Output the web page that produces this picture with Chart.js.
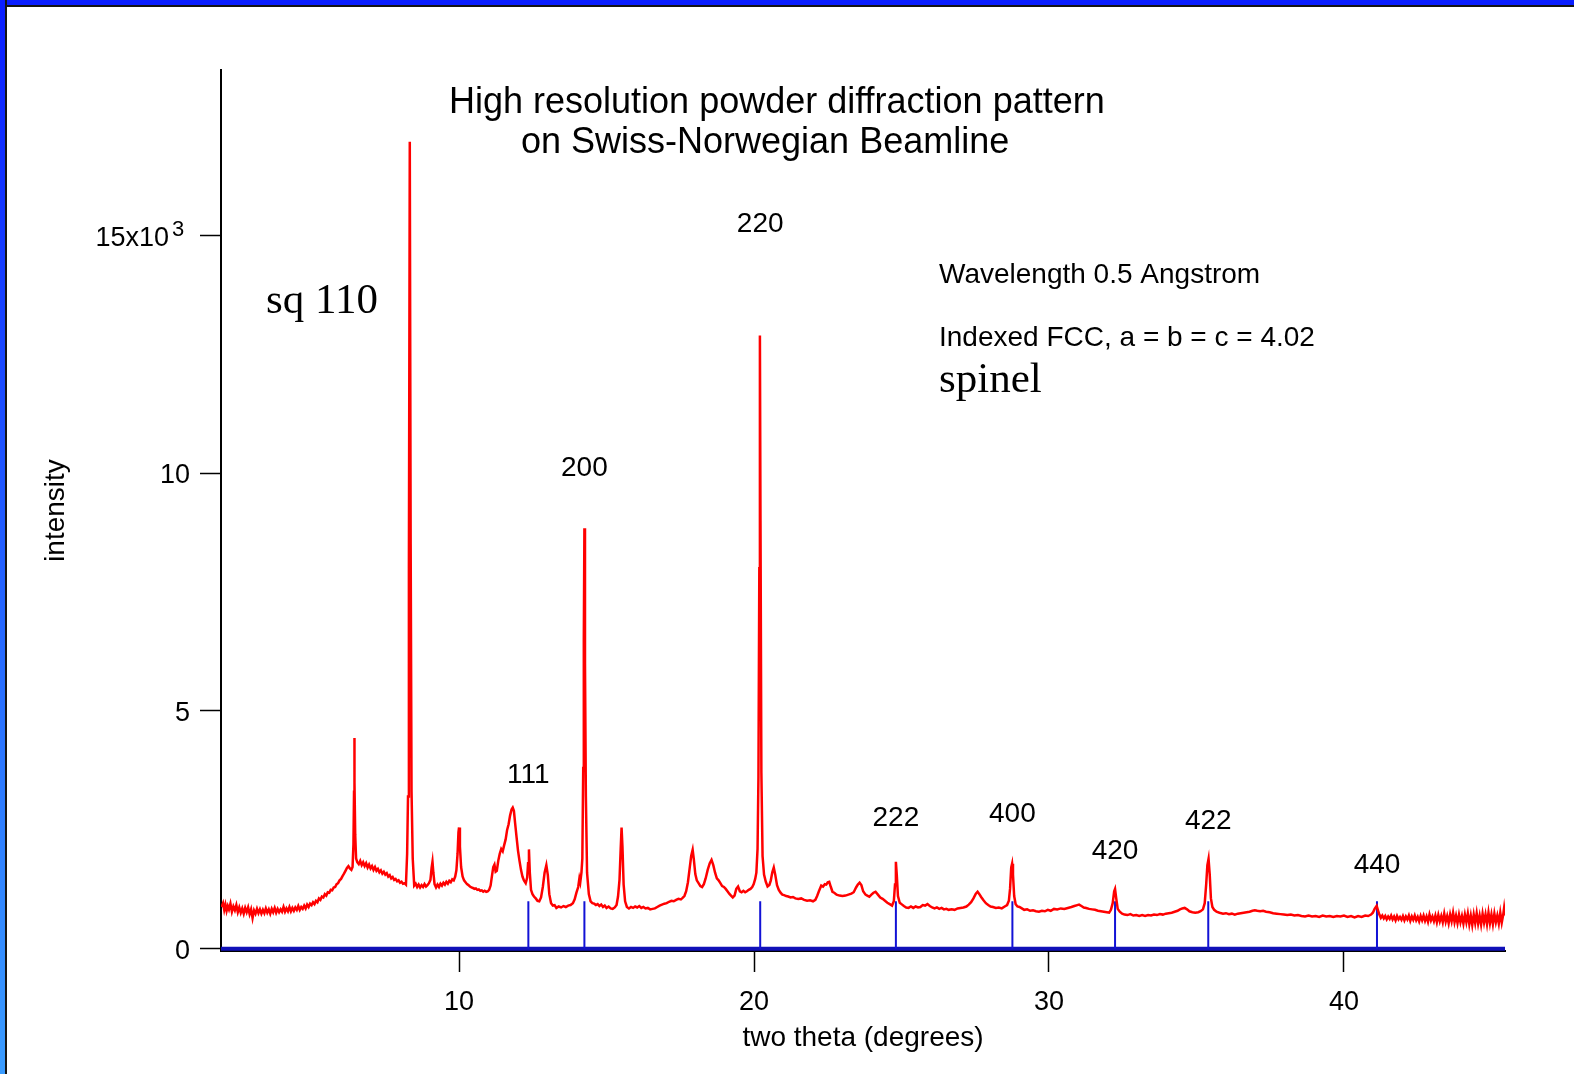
<!DOCTYPE html>
<html>
<head>
<meta charset="utf-8">
<script src="https://cdn.jsdelivr.net/npm/chart.js@4.4.0/dist/chart.umd.min.js"></script>
<style>
  html, body { margin: 0; padding: 0; background: #fff; }
  #wrap { position: relative; width: 1574px; height: 1074px; overflow: hidden; background: #fff; }
  #topbar { position: absolute; left: 0; top: 0; width: 1574px; height: 5px; background: #0a1eff; border-bottom: 2px solid #151515; }
  #leftbar { position: absolute; left: 0; top: 0; width: 5px; height: 1074px; background: linear-gradient(#0a1eff, #3a9cff); border-right: 2px solid #151515; }
  canvas { position: absolute; left: 0; top: 0; }
</style>
</head>
<body>
<div id="wrap">
  <canvas id="graficoXRD" width="1574" height="1074"></canvas>
  <div id="topbar"></div>
  <div id="leftbar"></div>
</div>
<script>
// two theta (deg), intensity (counts), split in pieces
const scanA = [
  [1.95,880],[2.00,960],[2.04,820],[2.08,930],[2.12,800],[2.16,900],[2.20,830],[2.25,950],[2.30,780],[2.35,890],
  [2.40,810],[2.45,920],[2.50,770],[2.55,870],[2.60,760],[2.65,850],[2.70,740],[2.75,860],[2.80,770],[2.85,870],
  [2.90,730],[2.95,830],[3.00,650],[3.05,810],[3.10,740],[3.15,840],[3.20,750],[3.25,830],[3.30,740],[3.35,820],
  [3.40,750],[3.45,850],[3.50,760],[3.55,830],[3.60,740],[3.65,840],[3.70,770],[3.75,860],[3.80,760],[3.85,840],
  [3.90,770],[3.95,830],[4.00,780],[4.05,880],[4.10,780],[4.15,850],[4.20,790],[4.25,880],[4.30,790],[4.35,860],
  [4.40,800],[4.45,870],[4.50,820],[4.55,900],[4.60,820],[4.65,880],[4.70,840],[4.75,910],[4.80,850],[4.85,930],
  [4.90,880],[4.95,950],[5.00,920],[5.05,980],[5.10,940],[5.15,1010],[5.20,980],[5.25,1060],[5.30,1030],[5.35,1100],
  [5.40,1080],[5.45,1150],[5.50,1120],[5.55,1190],[5.60,1180],[5.65,1240],[5.70,1230],[5.75,1290],[5.80,1300],[5.85,1360],
  [5.90,1380],[5.95,1440],[6.00,1470],[6.05,1530],[6.10,1580],[6.15,1640],[6.20,1700],[6.25,1740],[6.30,1690],[6.35,1660],
  [6.39,1720],[6.42,2200],[6.44,3300],[6.45,4430],[6.46,3500],[6.48,2400],[6.51,1900],
  [6.55,1820],[6.60,1780],[6.65,1850],[6.70,1760],[6.75,1820],[6.80,1740],[6.85,1800],[6.90,1710],[6.95,1770],[7.00,1690],
  [7.05,1740],[7.10,1660],[7.15,1720],[7.20,1640],[7.25,1680],[7.30,1610],[7.35,1650],[7.40,1580],[7.45,1620],[7.50,1560],
  [7.55,1590],[7.60,1520],[7.65,1550],[7.70,1480],[7.75,1510],[7.80,1450],[7.85,1470],[7.90,1420],[7.95,1440],[8.00,1390],
  [8.05,1410],[8.10,1370],[8.15,1380],[8.20,1350]
];
const scanB = [
  [8.24,2000],[8.27,3200],[8.30,8000],[8.33,16960],[8.36,8500],[8.39,3300],[8.43,1900],[8.48,1330],
  [8.53,1370],[8.58,1300],[8.63,1350],[8.68,1290],[8.73,1340],[8.78,1300],[8.83,1360],[8.88,1310],[8.93,1340],[8.98,1380],
  [9.03,1450],[9.07,1700],[9.10,1830],[9.13,1600],[9.17,1360],[9.22,1290],[9.27,1350],[9.32,1300],[9.37,1370],[9.42,1330],
  [9.47,1390],[9.52,1350],[9.57,1410],[9.62,1370],[9.67,1430],[9.72,1400],[9.77,1460],[9.82,1440],[9.87,1520],[9.91,1650],
  [9.95,2000],[9.98,2450],[10.00,2550],[10.03,2150],[10.07,1720],[10.12,1520],[10.17,1440],[10.22,1400],[10.27,1360],[10.32,1340],
  [10.37,1310],[10.42,1290],[10.47,1280],[10.52,1260],[10.57,1270],[10.62,1240],[10.67,1250],[10.72,1220],[10.77,1230],[10.82,1200],
  [10.87,1220],[10.92,1200],[10.97,1210],[11.02,1240],[11.07,1330],[11.12,1550],[11.16,1720],[11.20,1770],[11.24,1620],[11.28,1640],
  [11.33,1850],[11.38,2000],[11.43,2100],[11.48,2050],[11.53,2180],[11.58,2300],[11.63,2500],[11.68,2620],[11.73,2800],[11.78,2930],
  [11.82,2970],[11.86,2900],[11.90,2650],[11.95,2350],[12.00,2060],[12.05,1850],[12.10,1660],[12.15,1520],[12.20,1440],[12.26,1380],
  [12.31,1500],[12.34,1800],[12.37,2090],[12.40,1600],[12.44,1240],[12.49,1150],[12.54,1100],[12.60,1060],[12.66,1010],[12.72,1000],
  [12.78,1080],[12.84,1300],[12.90,1600],[12.96,1760],[13.01,1550],[13.06,1150],[13.12,960],[13.18,910],[13.24,920],[13.30,860],
  [13.38,890],[13.46,870],[13.54,900],[13.62,880],[13.70,910],[13.78,920],[13.86,960],[13.92,1040],[13.98,1180],[14.04,1300],
  [14.08,1480],[14.11,1400]
];
const scanC = [
  [14.15,1600],[14.18,1900],[14.21,3800],[14.23,6500],[14.25,8840],[14.27,6000],[14.30,3200],[14.34,1600],[14.40,1150],[14.46,1000],
  [14.52,960],[14.58,950],[14.64,920],[14.70,940],[14.76,900],[14.82,930],[14.88,880],[14.94,910],[15.00,860],[15.07,890],
  [15.14,850],[15.21,840],[15.28,870],[15.34,920],[15.39,1100],[15.44,1450],[15.48,2100],[15.51,2550],[15.54,2150],[15.58,1350],
  [15.63,1000],[15.69,880],[15.76,850],[15.83,880],[15.90,860],[15.97,890],[16.04,870],[16.11,900],[16.18,860],[16.25,880],
  [16.32,850],[16.40,860],[16.48,830],[16.56,840],[16.64,850],[16.72,880],[16.80,910],[16.88,930],[16.96,950],[17.04,960],
  [17.12,990],[17.20,1010],[17.28,1000],[17.36,1030],[17.44,1050],[17.52,1040],[17.58,1070],[17.64,1110],[17.70,1210],[17.76,1400],
  [17.82,1700],[17.87,1950],[17.92,2080],[17.96,1880],[18.01,1570],[18.06,1440],[18.12,1380],[18.18,1320],[18.24,1300],[18.30,1360],
  [18.36,1480],[18.43,1660],[18.50,1800],[18.56,1870],[18.62,1760],[18.68,1600],[18.74,1480],[18.80,1440],[18.86,1380],[18.92,1320],
  [18.98,1300],[19.04,1260],[19.10,1210],[19.16,1160],[19.22,1120],[19.28,1080],[19.34,1120],[19.40,1260],[19.46,1310],[19.52,1210],
  [19.58,1190],[19.64,1220],[19.70,1190],[19.76,1210],[19.82,1240],[19.88,1260],[19.94,1300],[19.99,1360],[20.04,1470]
];
const scanD = [
  [20.08,1600],[20.12,2100],[20.15,3600],[20.18,8000],[20.20,12890],[20.22,9000],[20.25,3700],[20.29,1950],[20.34,1560],[20.40,1410],
  [20.46,1310],[20.52,1340],[20.57,1440],[20.62,1610],[20.67,1710],[20.72,1560],[20.78,1340],[20.84,1240],[20.90,1180],[20.96,1140],
  [21.02,1130],[21.09,1110],[21.16,1100],[21.24,1080],[21.32,1090],[21.40,1060],[21.50,1050],[21.60,1060],[21.70,1030],[21.80,1010],
  [21.90,1020],[22.00,1000],[22.08,1030],[22.14,1110],[22.20,1210],[22.28,1330],[22.34,1310],[22.40,1360],[22.45,1350],[22.50,1400],
  [22.55,1410],[22.60,1310],[22.66,1200],[22.72,1180],[22.80,1140],[22.90,1120],[23.00,1110],[23.10,1120],[23.20,1140],[23.30,1160],
  [23.38,1190],[23.46,1290],[23.52,1350],[23.58,1390],[23.64,1340],[23.70,1210],[23.78,1140],[23.84,1120],[23.91,1095],[23.98,1140],
  [24.05,1180],[24.12,1200],[24.20,1140],[24.28,1080],[24.36,1050],[24.44,1010],[24.52,970],[24.60,940],[24.68,910],[24.74,1000],
  [24.78,1350],[24.81,1830],[24.84,1560],[24.88,1110],[24.94,970],[25.00,940],[25.08,900],[25.16,870],[25.24,860],[25.32,890],
  [25.40,860],[25.48,890],[25.56,870],[25.64,880],[25.72,920],[25.80,910],[25.88,940],[25.96,900],[26.04,870],[26.12,850],
  [26.20,870],[26.28,840],[26.36,860],[26.44,830],[26.52,840],[26.60,820],[26.70,830],[26.80,820],[26.90,850],[27.00,860],
  [27.10,870],[27.20,890],[27.28,930],[27.36,980],[27.44,1060],[27.52,1160],[27.58,1200],[27.64,1150],[27.70,1090],[27.78,1020],
  [27.86,960],[27.94,920]
];
const scanE = [
  [28.02,890],[28.10,880],[28.20,860],[28.30,870],[28.40,850],[28.50,890],[28.58,920],[28.64,1010],[28.68,1260],[28.72,1710],
  [28.75,1790],[28.78,1560],[28.82,1110],[28.87,940],[28.93,890],[29.00,880],[29.08,850],[29.16,820],[29.26,830],[29.36,800],
  [29.46,810],[29.56,790],[29.66,780],[29.76,800],[29.86,790],[29.96,820],[30.06,800],[30.17,840],[30.28,830],[30.40,850],
  [30.52,840],[30.64,860],[30.76,880],[30.86,900],[30.96,920],[31.02,930],[31.10,900],[31.18,870],[31.26,860],[31.36,840],
  [31.46,830],[31.56,820],[31.66,800],[31.76,790],[31.86,780],[31.96,770],[32.04,760],[32.10,820],[32.16,960],[32.21,1210],
  [32.24,1260],[32.28,1060],[32.33,840],[32.40,780],[32.48,740],[32.56,720],[32.66,710],[32.76,730],[32.86,700],[32.96,710],
  [33.06,690],[33.16,710],[33.26,690],[33.36,710],[33.46,700],[33.56,720],[33.66,710],[33.76,730],[33.86,720],[33.96,740],
  [34.06,750],[34.16,760],[34.26,780],[34.36,800],[34.44,830],[34.52,850],[34.60,860],[34.68,830],[34.76,790],[34.86,770],
  [34.96,760],[35.06,770],[35.14,790],[35.22,830],[35.28,960],[35.33,1360],[35.37,1760],[35.41,1895],[35.45,1560],[35.49,1060],
  [35.54,880]
];
const scanF = [
  [35.60,820],[35.68,780],[35.78,760],[35.90,740],[36.00,750],[36.10,730],[36.20,740],[36.30,720],[36.40,740],[36.50,750],
  [36.60,760],[36.70,770],[36.80,780],[36.90,800],[36.98,810],[37.06,800],[37.16,790],[37.26,800],[37.36,780],[37.48,770],
  [37.60,750],[37.72,740],[37.84,730],[37.96,720],[38.08,710],[38.20,720],[38.32,700],[38.44,710],[38.56,690],[38.68,680],
  [38.80,700],[38.92,680],[39.04,690],[39.16,670],[39.28,700],[39.40,680],[39.52,690],[39.64,670],[39.76,690],[39.88,680],
  [40.00,700],[40.12,670],[40.24,690],[40.36,660],[40.48,690],[40.60,670],[40.72,700],[40.82,690],[40.92,720],[40.98,760],
  [41.04,840],[41.11,905],[41.16,800],[41.20,720],[41.25,650],[41.30,700],[41.35,640],[41.40,690],[41.45,620],[41.50,680],
  [41.55,630],[41.60,700],[41.65,620],[41.70,680],[41.75,600],[41.80,690],[41.85,620],[41.90,670],[41.95,610],[42.00,690],
  [42.05,600],[42.10,680],[42.15,620],[42.20,700],[42.25,590],[42.30,680],[42.35,610],[42.40,700],[42.45,600],[42.50,670],
  [42.55,580],[42.60,690],[42.65,600],[42.70,700],[42.75,590],[42.80,680],[42.85,570],[42.90,720],[42.95,600],[43.00,680],
  [43.05,580],[43.10,700],[43.15,560],[43.20,710],[43.25,580],[43.30,690],[43.35,560],[43.40,740],[43.45,570],[43.50,690],
  [43.55,540],[43.60,720],[43.65,580],[43.70,760],[43.75,560],[43.80,700],[43.85,540],[43.90,720],[43.95,560],[44.00,690],
  [44.05,530],[44.10,720],[44.15,560],[44.20,740],[44.25,520],[44.30,700],[44.35,500],[44.40,720],[44.45,540],[44.50,750],
  [44.55,530],[44.60,700],[44.65,510],[44.70,740],[44.75,550],[44.80,720],[44.85,520],[44.90,760],[44.95,540],[45.00,720],
  [45.05,520],[45.10,740],[45.15,560],[45.20,700],[45.25,530],[45.30,760],[45.35,550],[45.40,720],[45.43,860],[45.46,700]
];

// FCC reflections (spinel, a = 4.02)
const hkl = ['111', '200', '220', '222', '400', '420', '422', '440'];
const hklTheta = [12.35, 14.25, 20.21, 24.81, 28.76, 32.24, 35.40, 41.12];
const stickHeight = 1000;
const hklLabelLevel = [3490, 9940, 15060, 2580, 2670, 1890, 2520, 1600];

const xRange = [1.93, 45.46];
const yRange = [-45, 18470];
const xTicks = [10, 20, 30, 40];
const yTicks = [0, 5000, 10000, 15000];

const titleLines = ['High resolution powder diffraction pattern', 'on Swiss-Norwegian Beamline'];
const notesText = ['Wavelength 0.5 Angstrom', 'Indexed FCC, a = b = c = 4.02'];

const pattern = [...scanA, ...scanB, ...scanC, ...scanD, ...scanE, ...scanF];
const sticks = [];
hklTheta.forEach(t => { sticks.push([t, 0], [t, stickHeight], [t, null]); });

const sans = '"Liberation Sans", Arial, sans-serif';
const serif = '"Liberation Serif", "Times New Roman", serif';

const textos = {
  id: 'textos',
  afterDraw(chart) {
    const { ctx } = chart;
    const x = chart.scales.x, y = chart.scales.y;
    ctx.save();
    ctx.fillStyle = '#000';
    ctx.textBaseline = 'alphabetic';
    ctx.textAlign = 'left';
    ctx.font = '36px ' + sans;
    ctx.fillText(titleLines[0], 449, 113);
    ctx.fillText(titleLines[1], 521, 153);

    ctx.font = '28px ' + sans;
    ctx.fillText(notesText[0], 939, 283);
    ctx.fillText(notesText[1], 939, 346);

    // exponent of the top y tick label
    ctx.font = '22px ' + sans;
    ctx.fillText('3', 172, y.getPixelForValue(15000) + 1);

    ctx.font = '43px ' + serif;
    ctx.fillText('spinel', 939, 392);
    ctx.fillText('sq 110', 266, 313);

    ctx.font = '28px ' + sans;
    ctx.textAlign = 'center';
    hkl.forEach((t, i) => {
      ctx.fillText(t, x.getPixelForValue(hklTheta[i]), y.getPixelForValue(hklLabelLevel[i]));
    });
    ctx.restore();
  }
};

new Chart(document.getElementById('graficoXRD'), {
  type: 'line',
  data: {
    datasets: [
      { label: 'scan', data: pattern, borderColor: '#ff0000', borderWidth: 2.5, pointRadius: 0, tension: 0 },
      { label: 'hkl', data: sticks, borderColor: '#1212d6', borderWidth: 2, pointRadius: 0, spanGaps: false },
      { label: 'zero', data: [[xRange[0], 0], [xRange[1], 0]], borderColor: '#1010b8', borderWidth: 4, pointRadius: 0 }
    ]
  },
  options: {
    responsive: false,
    devicePixelRatio: 1,
    animation: false,
    layout: { padding: { top: 70, right: 69, left: 0, bottom: 0 } },
    plugins: { legend: { display: false }, tooltip: { enabled: false }, title: { display: false } },
    scales: {
      x: {
        type: 'linear',
        min: xRange[0],
        max: xRange[1],
        afterBuildTicks: s => { s.ticks = xTicks.map(v => ({ value: v })); },
        afterFit: s => { s.height = 123; },
        grid: { display: true, drawOnChartArea: false, drawTicks: true, tickLength: 21, tickWidth: 1.5, tickColor: '#000' },
        border: { display: true, color: '#000', width: 2 },
        ticks: { color: '#000', font: { family: sans, size: 27 }, padding: 14, maxRotation: 0, autoSkip: false },
        title: { display: true, text: 'two theta (degrees)', color: '#000', font: { family: sans, size: 28 }, padding: { top: 0, bottom: 19 } }
      },
      y: {
        type: 'linear',
        min: yRange[0],
        max: yRange[1],
        afterBuildTicks: s => { s.ticks = yTicks.map(v => ({ value: v })); },
        afterFit: s => { s.width = 221; },
        grid: { display: true, drawOnChartArea: false, drawTicks: true, tickLength: 21, tickWidth: 1.5, tickColor: '#000' },
        border: { display: true, color: '#000', width: 2 },
        ticks: {
          color: '#000', font: { family: sans, size: 27 }, padding: 10, labelOffset: 3,
          callback: v => v === 15000 ? '15x10\u2002 ' : String(v / 1000)
        },
        title: { display: true, text: 'intensity', color: '#000', font: { family: sans, size: 28 }, padding: { top: 39, bottom: 0 } }
      }
    }
  },
  plugins: [textos]
});
</script>
</body>
</html>
